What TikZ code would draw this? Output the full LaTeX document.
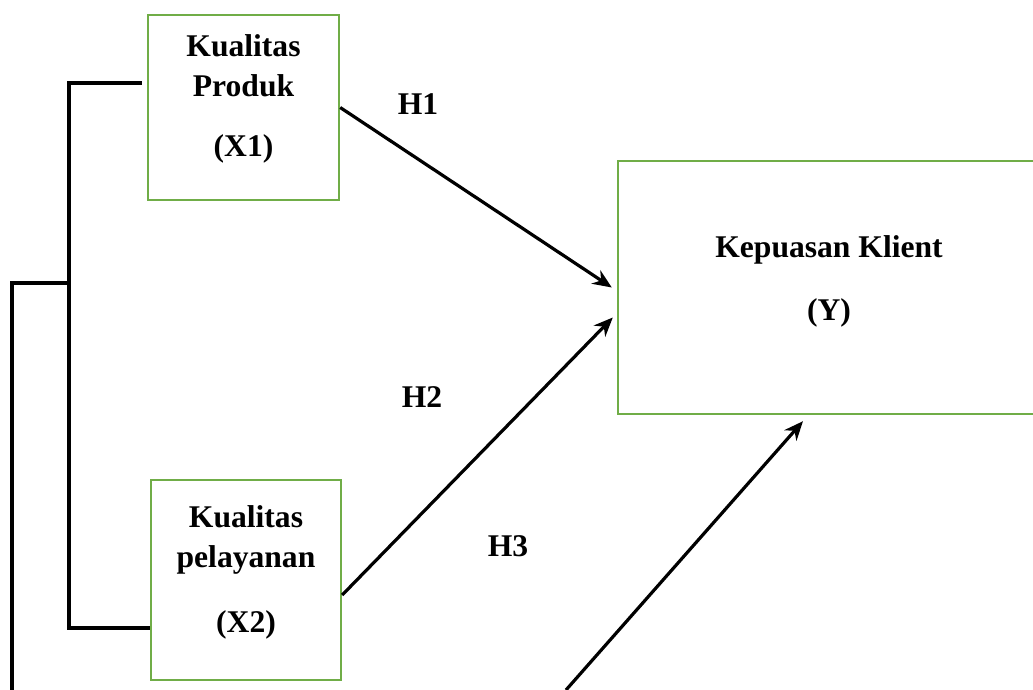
\documentclass[tikz,border=0pt]{standalone}
\usepackage{fontspec}
\setmainfont{Liberation Serif}
\usetikzlibrary{arrows.meta}
\usetikzlibrary{positioning}
\definecolor{hijau}{RGB}{112,173,71}

\begin{document}
\begin{tikzpicture}[x=0.5pt, y=-0.5pt, >={Stealth[length=9.5pt,width=8pt]},
    font=\fontsize{15.8}{20}\selectfont\bfseries]
  \tikzset{
    kotak/.style={draw=hijau, line width=1.2pt, align=center, inner sep=0pt},
    garis/.style={line width=1.6pt},
  }
  \useasboundingbox (0,0) rectangle (1033,690);
  % variabel
  \node (x1) [kotak, minimum width=95.5pt, minimum height=92.5pt] at (243.5,107.5) {Kualitas\\Produk\\[10pt](X1)\\[-8.5pt]\mbox{}};
  \node (x2) [kotak, minimum width=95pt, minimum height=100pt] at (246,580) {Kualitas\\pelayanan\\[12.5pt](X2)\\[-9.5pt]\mbox{}};
  \node (y) [kotak, minimum width=211pt, minimum height=126.5pt] at (829,287.5) {Kepuasan Klient\\[11.5pt](Y)\\[-10.5pt]\mbox{}};
  % hipotesis
  \node (h1) at (418,104) {H1};
  \node (h2) at (422,397) {H2};
  \node (h3) at (508,546) {H3};
  % garis kiri
  \coordinate (kiri1) at (69,83);
  \coordinate (kiri2) at (69,628);
  \coordinate (cabang) at (69,283);
  \coordinate (bawah) at (12,700);
  \coordinate (mulai3) at (566,690);
  \draw[garis] ([xshift=-2.5pt,yshift=12.25pt]x1.west) -- (kiri1) -- (kiri2) -- (x2.west |- kiri2);
  \draw[garis] (cabang) -| (bawah);
  % panah
  \draw[garis, ->] (x1.east) -- ([xshift=-2.5pt]y.west);
  \draw[garis, ->] ([yshift=-7.5pt]x2.east) -- ([xshift=-2pt,yshift=-15pt]y.west);
  \draw[garis, ->] (mulai3) -- ([xshift=-13pt,yshift=-3pt]y.south);
\end{tikzpicture}
\end{document}
